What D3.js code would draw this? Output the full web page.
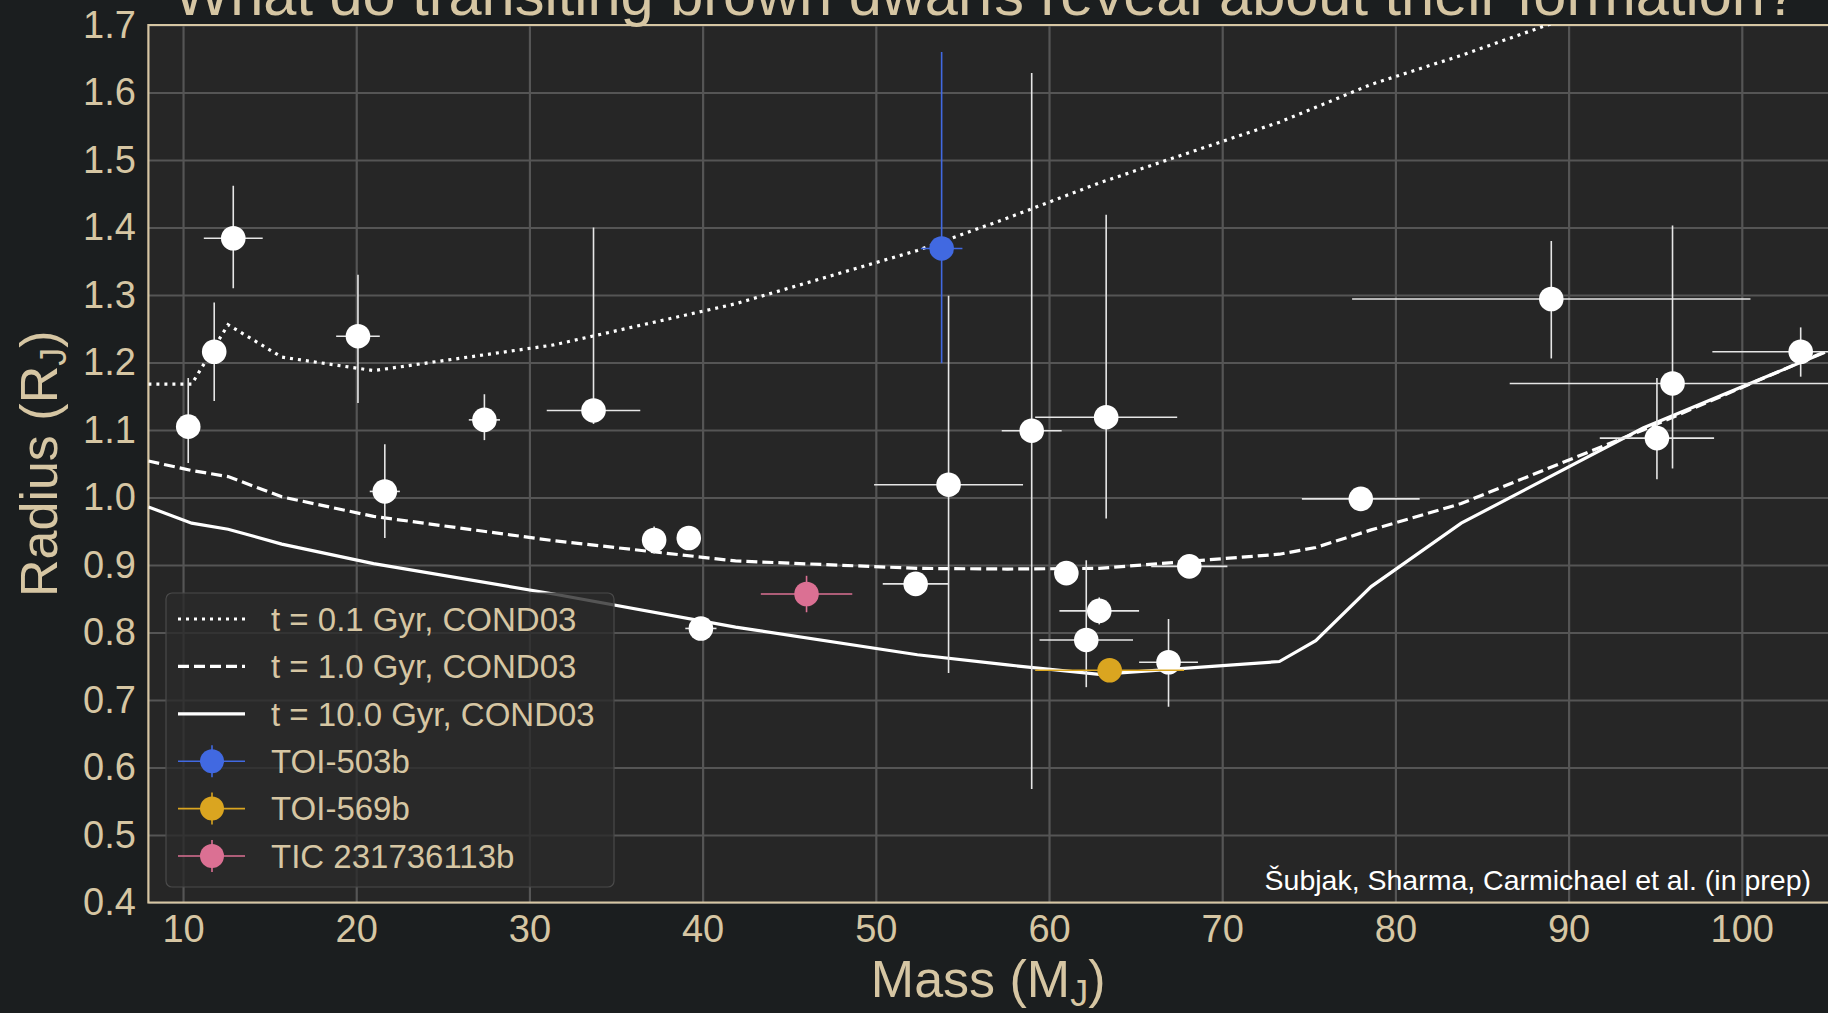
<!DOCTYPE html>
<html>
<head>
<meta charset="utf-8">
<script src="https://cdn.jsdelivr.net/npm/d3@7"></script>
<style>
  html, body { margin: 0; padding: 0; background: #1b1e1f; overflow: hidden; }
  svg { display: block; font-family: "Liberation Sans", Arial, sans-serif; }
</style>
</head>
<body>
<svg id="chart"></svg>
<script>
// model tracks (COND03), mass grid in M_J
const curveMass = [8.0, 10.5, 12.6, 15.7, 21.0, 31.4, 41.9, 52.4, 57.6, 62.9, 73.3, 75.4, 78.6, 83.8, 94.3, 104.8];
const radius01Gyr = [1.168, 1.168, 1.256, 1.208, 1.188, 1.226, 1.287, 1.366, 1.414, 1.466, 1.556, 1.578, 1.612, 1.655, 1.750, 1.840];
const radius1Gyr = [1.054, 1.040, 1.031, 1.001, 0.972, 0.936, 0.906, 0.895, 0.894, 0.895, 0.916, 0.926, 0.952, 0.991, 1.100, 1.216];
const radius10Gyr = [0.986, 0.962, 0.953, 0.931, 0.902, 0.857, 0.808, 0.767, 0.752, 0.738, 0.757, 0.788, 0.868, 0.962, 1.103, 1.215];

// known transiting brown dwarfs
const bdMass = [10.3, 11.8, 12.9, 20.1, 21.65, 27.4, 33.7, 37.2, 39.2, 39.9, 52.3, 54.2, 59.0, 61.0, 62.15, 62.9, 63.3, 66.9, 68.1, 78.0, 89.0, 95.1, 96.0, 103.4];
const bdRadius = [1.105, 1.216, 1.384, 1.239, 1.009, 1.115, 1.129, 0.937, 0.940, 0.806, 0.872, 1.019, 1.099, 0.888, 0.789, 0.832, 1.119, 0.756, 0.898, 0.998, 1.294, 1.088, 1.169, 1.216];
const bdMassErr = [0.4, 0.4, 1.7, 1.26, 0.87, 0.9, 2.7, 0.4, 0.6, 0.9, 1.9, 4.3, 1.73, 0.5, 2.7, 2.3, 4.1, 1.7, 2.2, 3.4, 11.5, 3.3, 9.4, 5.1];
const bdRadErrLo = [0.054, 0.073, 0.074, 0.099, 0.069, 0.030, 0.020, 0.020, 0.015, 0.015, 0.015, 0.279, 0.531, 0.013, 0.070, 0.020, 0.150, 0.066, 0.012, 0.015, 0.088, 0.061, 0.126, 0.037];
const bdRadErrHi = [0.072, 0.073, 0.078, 0.091, 0.070, 0.038, 0.271, 0.020, 0.015, 0.015, 0.015, 0.280, 0.530, 0.013, 0.118, 0.020, 0.300, 0.064, 0.012, 0.015, 0.086, 0.089, 0.234, 0.036];

// new objects
const newNames = ['TOI-503b', 'TOI-569b', 'TIC 231736113b'];
const newMass = [53.8, 63.5, 46.0];
const newRadius = [1.369, 0.744, 0.857];
const newMassErr = [1.2, 4.3, 2.64];
const newRadErrLo = [0.170, 0.015, 0.027];
const newRadErrHi = [0.291, 0.015, 0.027];
const newColors = ['#4169e1', '#daa520', '#db7093'];

const curveLabels = ['t = 0.1 Gyr, COND03', 't = 1.0 Gyr, COND03', 't = 10.0 Gyr, COND03'];
const xTicks = [10, 20, 30, 40, 50, 60, 70, 80, 90, 100];
const yTicks = [0.4, 0.5, 0.6, 0.7, 0.8, 0.9, 1.0, 1.1, 1.2, 1.3, 1.4, 1.5, 1.6, 1.7];

const W = 1828, H = 1013;
const plotL = 148.4, plotR = 1828.4, plotT = 25, plotB = 902.5;
const tan = '#d6c6a3';

const svg = d3.select('#chart').attr('width', W).attr('height', H);

svg.append('rect').attr('width', W).attr('height', H).attr('fill', '#1b1e1f');

const x = d3.scaleLinear().domain([8, 105]).range([plotL, plotR]);
const y = d3.scaleLinear().domain([0.4, 1.7]).range([plotB, plotT]);

svg.append('defs').append('clipPath').attr('id', 'plotclip')
  .append('rect').attr('x', plotL).attr('y', plotT).attr('width', plotR - plotL).attr('height', plotB - plotT);

svg.append('rect')
  .attr('x', plotL).attr('y', plotT).attr('width', plotR - plotL).attr('height', plotB - plotT)
  .attr('fill', '#262626');

// grid
const gx = svg.append('g')
  .attr('transform', `translate(0, ${plotB})`)
  .call(d3.axisBottom(x).tickValues(xTicks).tickSize(-(plotB - plotT)).tickFormat(''));
const gy = svg.append('g')
  .attr('transform', `translate(${plotL}, 0)`)
  .call(d3.axisLeft(y).tickValues(yTicks).tickSize(-(plotR - plotL)).tickFormat(''));
[gx, gy].forEach(g => {
  g.select('.domain').remove();
  g.selectAll('line').attr('stroke', '#555555').attr('stroke-width', 2.2);
});

// tick labels
const xl = svg.append('g')
  .attr('transform', `translate(0, ${plotB})`)
  .call(d3.axisBottom(x).tickValues(xTicks).tickSize(0).tickPadding(12.5).tickFormat(d3.format('d')));
const yl = svg.append('g')
  .attr('transform', `translate(${plotL}, 0)`)
  .call(d3.axisLeft(y).tickValues(yTicks).tickSize(0).tickPadding(12.5).tickFormat(d3.format('.1f')));
[xl, yl].forEach(g => {
  g.select('.domain').remove();
  g.selectAll('text').attr('fill', tan).attr('font-size', 38)
    .attr('font-family', '"Liberation Sans", Arial, sans-serif');
});

// spines
svg.append('path')
  .attr('d', `M${plotR + 5},${plotT}H${plotL}V${plotB}H${plotR + 5}`)
  .attr('fill', 'none').attr('stroke', tan).attr('stroke-width', 2.2);

// model curves
const plot = svg.append('g').attr('clip-path', 'url(#plotclip)');
const line = d3.line().x(d => x(d[0])).y(d => y(d[1]));
const tracks = [radius01Gyr, radius1Gyr, radius10Gyr];
const dashes = ['3,5', '11,5', null];
tracks.forEach((r, i) => {
  plot.append('path')
    .datum(curveMass.map((m, j) => [m, r[j]]))
    .attr('fill', 'none')
    .attr('stroke', '#ffffff')
    .attr('stroke-width', 3.2)
    .attr('stroke-dasharray', dashes[i])
    .attr('d', line);
});

function errPoint(g, m, r, me, rlo, rhi, color, ecolor) {
  g.append('line')
    .attr('x1', x(m - me)).attr('x2', x(m + me))
    .attr('y1', y(r)).attr('y2', y(r))
    .attr('stroke', ecolor).attr('stroke-width', 1.6);
  g.append('line')
    .attr('x1', x(m)).attr('x2', x(m))
    .attr('y1', y(r - rlo)).attr('y2', y(r + rhi))
    .attr('stroke', ecolor).attr('stroke-width', 1.6);
  g.append('circle')
    .attr('cx', x(m)).attr('cy', y(r)).attr('r', 12.3)
    .attr('fill', color);
}

const pts = plot.append('g');
bdMass.forEach((m, i) => {
  errPoint(pts, m, bdRadius[i], bdMassErr[i], bdRadErrLo[i], bdRadErrHi[i], '#ffffff', '#e6e6e6');
});
newMass.forEach((m, i) => {
  errPoint(pts, m, newRadius[i], newMassErr[i], newRadErrLo[i], newRadErrHi[i], newColors[i], newColors[i]);
});

// annotation
svg.append('text')
  .attr('x', 1811).attr('y', 890)
  .attr('text-anchor', 'end')
  .attr('fill', '#ffffff')
  .attr('font-size', 28.5)
  .text('Šubjak, Sharma, Carmichael et al. (in prep)');

// legend
const leg = svg.append('g');
leg.append('rect')
  .attr('x', 166).attr('y', 593).attr('width', 448).attr('height', 294)
  .attr('rx', 6)
  .attr('fill', '#2a2a2a').attr('fill-opacity', 0.8)
  .attr('stroke', '#4a4a4a').attr('stroke-width', 1.2);
const rowY = d3.range(6).map(i => 619 + i * 47.4);
curveLabels.forEach((lab, i) => {
  leg.append('line')
    .attr('x1', 178).attr('x2', 245).attr('y1', rowY[i]).attr('y2', rowY[i])
    .attr('stroke', '#ffffff').attr('stroke-width', 3.2)
    .attr('stroke-dasharray', dashes[i]);
  leg.append('text')
    .attr('x', 271).attr('y', rowY[i] + 11.8)
    .attr('fill', tan).attr('font-size', 33)
    .text(lab);
});
newNames.forEach((name, i) => {
  const cy = rowY[i + 3];
  leg.append('line')
    .attr('x1', 178).attr('x2', 245).attr('y1', cy).attr('y2', cy)
    .attr('stroke', newColors[i]).attr('stroke-width', 1.6);
  leg.append('line')
    .attr('x1', 212).attr('x2', 212).attr('y1', cy - 16).attr('y2', cy + 16)
    .attr('stroke', newColors[i]).attr('stroke-width', 1.6);
  leg.append('circle').attr('cx', 212).attr('cy', cy).attr('r', 12)
    .attr('fill', newColors[i]);
  leg.append('text')
    .attr('x', 271).attr('y', cy + 11.8)
    .attr('fill', tan).attr('font-size', 33)
    .text(name);
});

// axis labels
const xlab = svg.append('text')
  .attr('x', (plotL + 1828) / 2).attr('y', 997)
  .attr('text-anchor', 'middle')
  .attr('fill', tan).attr('font-size', 52);
xlab.append('tspan').text('Mass (M');
xlab.append('tspan').attr('font-size', 36).attr('dy', 9).text('J');
xlab.append('tspan').attr('dy', -9).text(')');

const ylab = svg.append('text')
  .attr('transform', `translate(57, ${(plotT + plotB) / 2}) rotate(-90)`)
  .attr('text-anchor', 'middle')
  .attr('fill', tan).attr('font-size', 52);
ylab.append('tspan').text('Radius (R');
ylab.append('tspan').attr('font-size', 36).attr('dy', 9).text('J');
ylab.append('tspan').attr('dy', -9).text(')');

// title (cut off by the top of the figure)
svg.append('text')
  .attr('x', 986).attr('y', 15)
  .attr('text-anchor', 'middle')
  .attr('fill', tan).attr('font-size', 59.5)
  .text('What do transiting brown dwarfs reveal about their formation?');
</script>
</body>
</html>
